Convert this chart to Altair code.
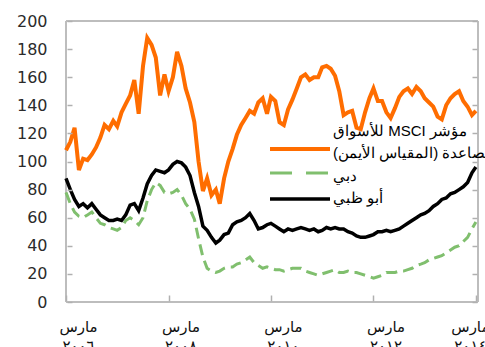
import altair as alt
import pandas as pd

# Monthly observations, March 2006 to March 2014
months = pd.date_range("2006-03-01", "2014-03-01", freq="MS")

# MSCI Emerging Markets index (right-hand scale)
msci = [
    108, 114, 124, 94, 102, 101, 105, 110, 117, 126, 123, 129,
    125, 135, 141, 147, 158, 134, 168, 188, 183, 174, 147, 162,
    150, 160, 178, 168, 152, 142, 128, 100, 79, 88, 76, 80,
    70, 88, 100, 109, 119, 126, 131, 136, 134, 142, 145, 134,
    146, 143, 128, 126, 137, 144, 152, 160, 162, 158, 160, 160,
    167, 168, 166, 161, 150, 133, 135, 136, 124, 123, 135, 145,
    152, 143, 143, 135, 131, 138, 146, 150, 152, 148, 153, 150,
    145, 142, 139, 132, 130, 140, 145, 148, 150, 143, 139, 133,
    136,
]

# Dubai
dubai = [
    78, 70, 64, 61, 60, 62, 64, 60, 56, 55, 53, 52,
    51, 53, 58, 60, 58, 55, 60, 72, 80, 85, 83, 78,
    77, 78, 80, 76, 70, 66, 59, 45, 32, 24, 22, 21,
    22, 24, 25, 25, 27, 28, 30, 32, 28, 26, 24, 25,
    24, 23, 23, 22, 23, 24, 24, 24, 22, 21, 20, 19,
    20, 21, 22, 23, 21, 21, 22, 21, 21, 20, 19, 18,
    17, 18, 19, 21, 21, 21, 22, 22, 23, 24, 26, 27,
    28, 30, 31, 32, 33, 35, 37, 39, 40, 43, 46, 52,
    57,
]

# Abu Dhabi
abu_dhabi = [
    88, 80, 73, 68, 70, 67, 70, 66, 62, 60, 58, 58,
    59, 58, 62, 69, 70, 65, 74, 84, 90, 94, 93, 92,
    94, 98, 100, 99, 96, 90, 78, 68, 54, 51, 46, 42,
    44, 48, 49, 55, 57, 58, 60, 63, 58, 52, 53, 55,
    56, 54, 52, 50, 52, 51, 52, 53, 52, 51, 52, 50,
    51, 53, 52, 53, 52, 52, 50, 49, 47, 46, 46, 47,
    48, 50, 50, 51, 50, 51, 52, 54, 56, 58, 60, 62,
    63, 65, 68, 70, 73, 74, 77, 78, 80, 82, 85, 92,
    96,
]

tick_years = [2006, 2008, 2010, 2012, 2014]
month_name = "مارس"
year_labels = ["٢٠٠٦", "٢٠٠٨", "٢٠١٠", "٢٠١٢", "٢٠١٤"]
y_ticks = [0, 20, 40, 60, 80, 100, 120, 140, 160, 180, 200]

legend_msci = ["مؤشر MSCI للأسواق", "الصاعدة (المقياس الأيمن)"]
legend_dubai = "دبي"
legend_abu_dhabi = "أبو ظبي"

ORANGE = "#ff6d00"
GREEN = "#80bf6e"
BLACK = "#000000"
FRAME = "#bdbdbd"
TICK = "#b0b0b0"
RLE, PDF = "\u202b", "\u202c"
W, H = 412, 281

df = pd.DataFrame({"date": months, "msci": msci, "dubai": dubai, "abu_dhabi": abu_dhabi})

tick_values = [alt.DateTime(year=y, month=3, date=1) for y in tick_years]
label_expr = ""
for y, lab in zip(tick_years, year_labels):
    label_expr += f"year(datum.value) == {y} ? ['{month_name}', '{lab}'] : "
label_expr += "''"

x_scale = alt.Scale(domain=[alt.DateTime(year=2006, month=3, date=1),
                            alt.DateTime(year=2014, month=3, date=16)])
y_scale = alt.Scale(domain=[0, 200], nice=False, zero=True)

one = pd.DataFrame({"k": [0]})

# plot frame, drawn as four rules
frame = [
    alt.Chart(one).mark_rule(color=FRAME, strokeWidth=2).encode(
        x=alt.value(0), x2=alt.value(W), y=alt.value(0)),
    alt.Chart(one).mark_rule(color=FRAME, strokeWidth=2).encode(
        x=alt.value(0), x2=alt.value(W), y=alt.value(H)),
    alt.Chart(one).mark_rule(color=FRAME, strokeWidth=2).encode(
        x=alt.value(0), y=alt.value(0), y2=alt.value(H)),
    alt.Chart(one).mark_rule(color=FRAME, strokeWidth=2).encode(
        x=alt.value(W), y=alt.value(0), y2=alt.value(H)),
]

base = alt.Chart(df)

# orange line, carries the month/year labels and the inner ticks on the right
msci_line = base.mark_line(color=ORANGE, strokeWidth=4).encode(
    x=alt.X("date:T", scale=x_scale, title=None,
            axis=alt.Axis(values=tick_values, labelExpr=label_expr, ticks=False, tickSize=0,
                          domain=False, grid=False,
                          labelOffset=alt.condition(f"year(datum.value) == {tick_years[-1]}",
                                                    alt.value(-6), alt.value(12)),
                          labelPadding=17,
                          labelFont="DejaVu Sans", labelFontSize=15, labelColor="#111111",
                          labelLineHeight=19, labelFlush=False, labelOverlap=False,
                          labelBound=False, labelAlign="center")),
    y=alt.Y("msci:Q", scale=y_scale, title=None,
            axis=alt.Axis(orient="right", values=y_ticks, labels=False, domain=False,
                          grid=False, tickSize=5, offset=-6, tickColor=TICK, tickWidth=1.5,
                          zindex=1)),
)

# green dashed line, carries the inner ticks on the bottom and left
dubai_line = base.mark_line(color=GREEN, strokeWidth=3, strokeDash=[11, 6]).encode(
    x=alt.X("date:T", scale=x_scale, title=None,
            axis=alt.Axis(orient="bottom", values=tick_values, labels=False, domain=False,
                          grid=False, tickSize=6, offset=-7, tickColor=TICK, tickWidth=1.5,
                          zindex=1)),
    y=alt.Y("dubai:Q", scale=y_scale, title=None,
            axis=alt.Axis(orient="left", values=y_ticks, labels=False, domain=False,
                          grid=False, tickSize=5, offset=-6, tickColor=TICK, tickWidth=1.5,
                          zindex=1)),
)

# black line, carries the value labels on the left
abu_line = base.mark_line(color=BLACK, strokeWidth=3.5).encode(
    x=alt.X("date:T", scale=x_scale, title=None, axis=None),
    y=alt.Y("abu_dhabi:Q", scale=y_scale, title=None,
            axis=alt.Axis(orient="left", values=y_ticks, ticks=False, tickSize=0,
                          domain=False, grid=False, labelPadding=19,
                          labelFont="DejaVu Sans", labelFontSize=16, labelColor="#2b2b2b")),
)


def key_line(color, y, width, dash=None):
    kw = dict(color=color, strokeWidth=width)
    if dash:
        kw["strokeDash"] = dash
    return alt.Chart(one).mark_rule(**kw).encode(
        x=alt.value(204), x2=alt.value(264), y=alt.value(y))


def key_text(text, y):
    return alt.Chart(pd.DataFrame({"t": [RLE + text + PDF]})).mark_text(
        align="left", baseline="middle", font="Liberation Sans", fontSize=15, color="#000000"
    ).encode(x=alt.value(267), y=alt.value(y), text="t:N")


legend = [
    key_line(ORANGE, 128, 4),
    key_line(GREEN, 152, 3, [22, 14]),
    key_line(BLACK, 178, 3.5),
    key_text(legend_msci[0], 110),
    key_text(legend_msci[1], 132),
    key_text(legend_dubai, 155),
    key_text(legend_abu_dhabi, 177),
]

chart = alt.layer(*frame, msci_line, dubai_line, abu_line, *legend).resolve_scale(
    x="independent", y="independent"
).resolve_axis(
    x="independent", y="independent"
).properties(
    width=W, height=H,
    autosize=alt.AutoSizeParams(type="none"),
    padding={"left": 66, "top": 21, "right": 7, "bottom": 45},
    background="white",
).configure_view(stroke=None)

chart.save("out.html", embed_options={"renderer": "svg", "actions": False})
